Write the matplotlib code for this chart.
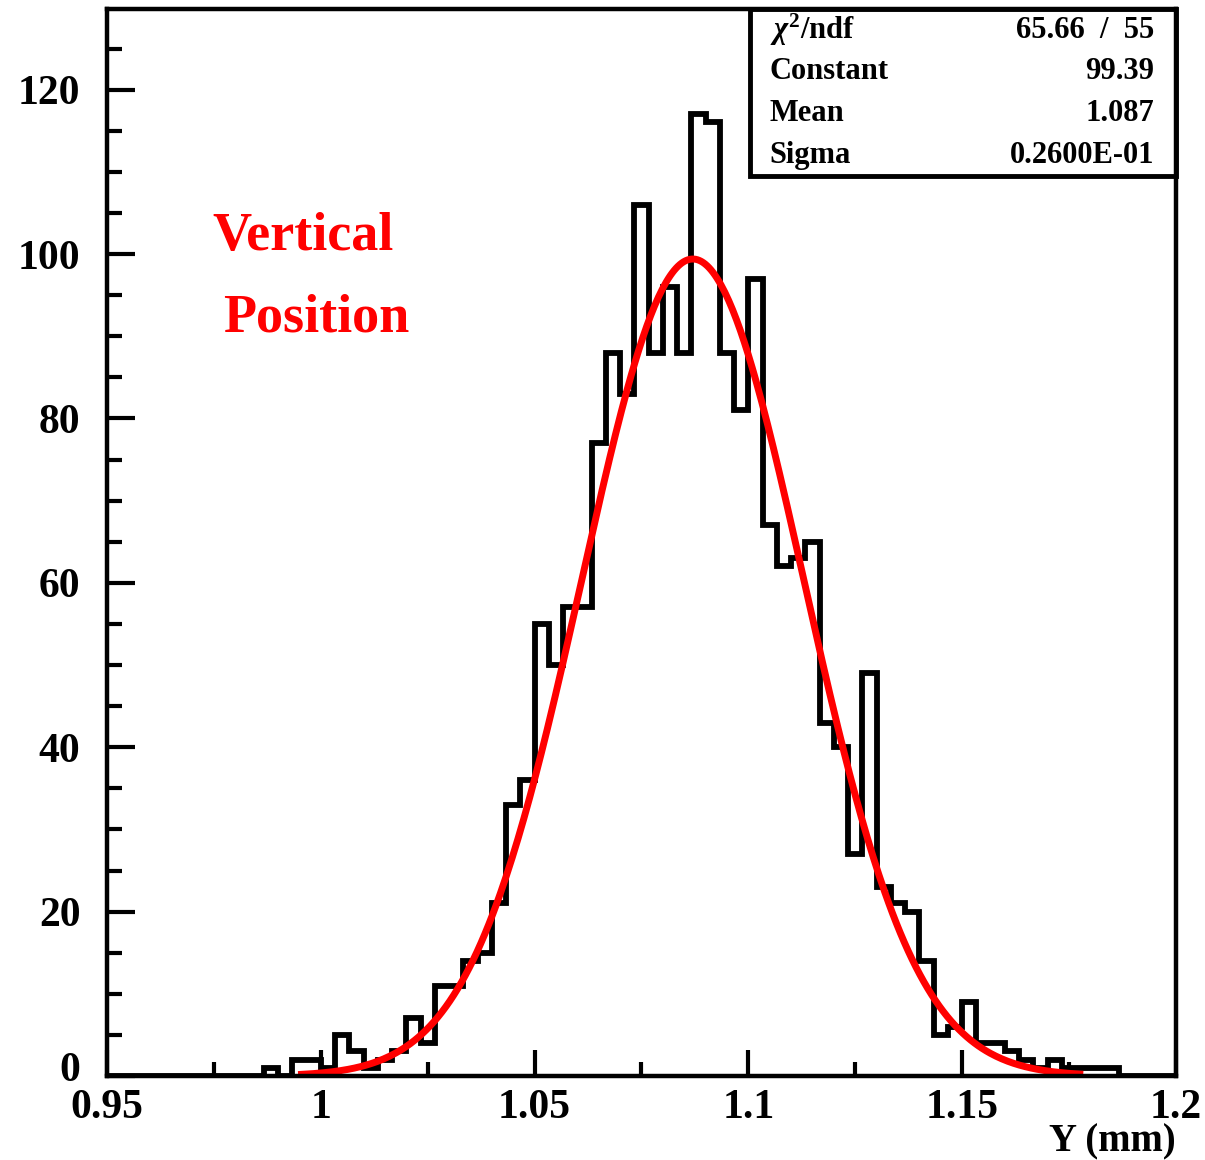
import numpy as np
import matplotlib
matplotlib.use("Agg")
import matplotlib.pyplot as plt
import matplotlib.transforms as mtransforms
from matplotlib.patches import Rectangle
from matplotlib.ticker import MultipleLocator, FixedLocator, FixedFormatter

plt.rcParams['font.family'] = ['Liberation Serif', 'DejaVu Serif']
plt.rcParams['font.weight'] = 'bold'
plt.rcParams['mathtext.fontset'] = 'custom'
plt.rcParams['mathtext.rm'] = 'Liberation Serif'
plt.rcParams['mathtext.it'] = 'Liberation Serif:italic'

# histogram: 75 bins between 0.95 and 1.2
x_lo, x_hi, n_bins = 0.95, 1.2, 75
counts = [0, 0, 0, 0, 0, 0, 0, 0, 0, 0,
          0, 1, 0, 2, 2, 1, 5, 3, 1, 2,
          3, 7, 4, 11, 11, 14, 15, 21, 33, 36,
          55, 50, 57, 57, 77, 88, 83, 106, 88, 96,
          88, 117, 116, 88, 81, 97, 67, 62, 63, 65,
          43, 40, 27, 49, 23, 21, 20, 14, 5, 6,
          9, 4, 4, 3, 2, 1, 2, 1, 1, 1,
          1, 0, 0, 0, 0]

# gaussian fit
fit_const = 99.39
fit_mean = 1.087
fit_sigma = 0.0260
fit_range = (0.9955, 1.1775)

stat_labels = [r'$\chi^2$/ndf', 'Constant', 'Mean', 'Sigma']
stat_values = ['65.66  /  55', '99.39', '1.087', '0.2600E-01']

xticks = [0.95, 1.0, 1.05, 1.1, 1.15, 1.2]
xtick_labels = ['0.95', '1', '1.05', '1.1', '1.15', '1.2']
yticks = [0, 20, 40, 60, 80, 100, 120]

fig = plt.figure(figsize=(12.05, 11.6), dpi=100)
ax = fig.add_axes([0.0888, 0.0724, 0.8871, 0.9198])

edges = np.linspace(x_lo, x_hi, n_bins + 1)
ax.stairs(counts, edges, color='black', lw=4.2, baseline=0)

xf = np.linspace(fit_range[0], fit_range[1], 400)
yf = fit_const * np.exp(-0.5 * ((xf - fit_mean) / fit_sigma) ** 2)
ax.plot(xf, yf, color='red', lw=5)

ax.set_xlim(x_lo, x_hi)
ax.set_ylim(0, 129.8)

for s in ax.spines.values():
    s.set_linewidth(3.2)

ax.xaxis.set_major_locator(FixedLocator(xticks))
ax.xaxis.set_major_formatter(FixedFormatter(xtick_labels))
ax.xaxis.set_minor_locator(MultipleLocator(0.025))
ax.yaxis.set_major_locator(FixedLocator(yticks))
ax.yaxis.set_minor_locator(MultipleLocator(5))

ax.tick_params(axis='both', which='both', direction='in', top=False, right=False,
               labelsize=30, width=3)
ax.tick_params(axis='x', which='major', length=19, pad=9)
ax.tick_params(axis='x', which='minor', length=10)
ax.tick_params(axis='y', which='major', length=20, pad=19)
ax.tick_params(axis='y', which='minor', length=11)

# lift the "0" label a little so it only touches the "0.95" label
zero_lab = ax.yaxis.get_major_ticks()[0].label1
zero_lab.set_transform(zero_lab.get_transform() +
                       mtransforms.ScaledTranslation(0, 7 / 72, fig.dpi_scale_trans))

ax.text(1.0, -0.062, 'Y (mm)', transform=ax.transAxes, ha='right', va='center',
        fontsize=28, fontweight='bold')

ax.text(0.1835, 0.786, 'Vertical', transform=ax.transAxes, ha='center', va='center',
        color='red', fontsize=39, fontweight='bold')
ax.text(0.196, 0.710, 'Position', transform=ax.transAxes, ha='center', va='center',
        color='red', fontsize=39, fontweight='bold')

# stats box
ax.add_patch(Rectangle((0.6015, 0.8435), 0.3985, 0.1565, transform=ax.transAxes,
                       fill=False, edgecolor='black', lw=3.5, clip_on=False))
row_y = [0.980, 0.941, 0.9025, 0.863]
for lab, val, yy in zip(stat_labels, stat_values, row_y):
    ax.text(0.620, yy, lab, transform=ax.transAxes, ha='left', va='center',
            fontsize=22, fontweight='bold')
    ax.text(0.980, yy, val, transform=ax.transAxes, ha='right', va='center',
            fontsize=22, fontweight='bold')

fig.savefig('out.png', dpi=100)
